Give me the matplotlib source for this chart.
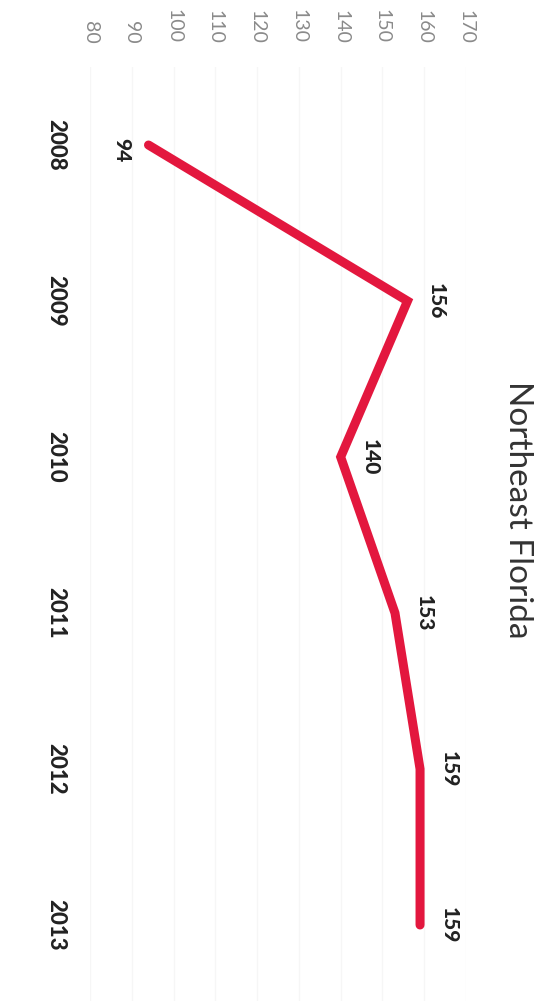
import matplotlib
matplotlib.use("Agg")
import matplotlib.pyplot as plt

# data (chart is drawn turned 90 degrees clockwise, like the scan)
years = [2008, 2009, 2010, 2011, 2012, 2013]
values = [94, 156, 140, 153, 159, 159]
value_ticks = [80, 90, 100, 110, 120, 130, 140, 150, 160, 170]
title = "Northeast Florida"

plt.rcParams['font.family'] = ['Lato', 'DejaVu Sans']

fig = plt.figure(figsize=(5.48, 10.01), dpi=100)
ax = fig.add_axes([90/548, 0, 376/548, 1 - 67/1001])

line_color = '#e3173e'
ax.plot(values, years, color=line_color, lw=6.5, solid_capstyle='round',
        solid_joinstyle='miter', zorder=3)

ax.set_xlim(80, 170)
ax.set_ylim(2008 + (1001 - 145) / 156, 2007.5)

# value axis across the top
ax.xaxis.tick_top()
ax.set_xticks(value_ticks)
ax.set_xticklabels([str(v) for v in value_ticks], rotation=-90, color='#8a8a8a',
                   fontsize=14, va='bottom', ha='center')
ax.tick_params(axis='x', length=0, pad=17)

# years down the left side
ax.set_yticks(years)
ax.set_yticklabels([str(y) for y in years], rotation=-90, color='#222222',
                   fontsize=16, fontweight='black', va='center', ha='right')
ax.tick_params(axis='y', length=0, pad=17)

ax.grid(axis='x', color='#f6f6f6', lw=1)
ax.set_axisbelow(True)
for s in ax.spines.values():
    s.set_visible(False)

# data labels
for i, (y, v) in enumerate(zip(years, values)):
    dx = -19 if i == 0 else 21
    ax.annotate(str(v), (v, y), xytext=(dx, -4 if i == 0 else 0),
                textcoords='offset points', rotation=-90, ha='center',
                va='center', fontsize=15, fontweight='black', color='#222222')

fig.text(518/548, 1 - 510/1001, title, rotation=-90, ha='center', va='center',
         fontsize=24, color='#333333')

fig.savefig('out.png', dpi=100, facecolor='white')
